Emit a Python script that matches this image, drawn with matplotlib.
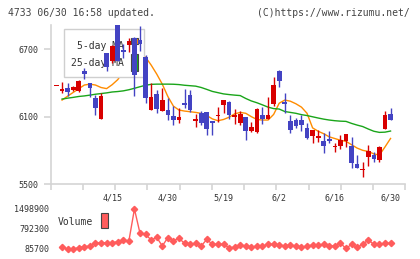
import numpy as np
import matplotlib
matplotlib.use("Agg")
import matplotlib.pyplot as plt
from matplotlib.patches import Rectangle

# ---------------- data ----------------
date_labels = ["4/15", "4/30", "5/19", "6/2", "6/16", "6/30"]
label_idx = [10, 20, 30, 40, 50, 60]

opens = [6373, 6328, 6355, 6340, 6331, 6509, 6402, 6266, 6081, 6670,
         6593, 6917, 6685, 6741, 6800, 6783, 6634, 6159, 6301, 6153,
         6159, 6105, 6070, 6224, 6293, 6064, 6129, 6141, 6055, 6105,
         6203, 6230, 6099, 6046, 6096, 5972, 5963, 6114, 6076, 6212,
         6507, 6221, 6061, 6070, 6070, 5995, 5927, 5912, 5882, 5894,
         5826, 5841, 5885, 5838, 5677, 5624, 5737, 5760, 5713, 5992, 6123]
highs = [6373, 6408, 6402, 6376, 6426, 6530, 6402, 6290, 6313, 6670,
         6738, 6917, 6747, 6798, 6810, 6908, 6649, 6402, 6337, 6355,
         6266, 6194, 6177, 6346, 6337, 6120, 6153, 6141, 6061, 6183,
         6248, 6239, 6168, 6150, 6096, 6052, 6174, 6186, 6272, 6456,
         6515, 6313, 6114, 6084, 6114, 6040, 5981, 5981, 5954, 5972,
         5868, 5936, 5945, 5915, 5758, 5692, 5847, 5781, 5838, 6150, 6180]
lows = [6373, 6313, 6287, 6328, 6319, 6432, 6278, 6117, 6081, 6506,
        6581, 6599, 6625, 6673, 6284, 6685, 6224, 6159, 6135, 6153,
        6070, 6028, 6046, 6174, 6144, 6010, 6030, 5936, 5936, 6055,
        6135, 6079, 6034, 6025, 5891, 5960, 5954, 6034, 6076, 6197,
        6367, 6129, 5957, 6001, 5975, 5900, 5868, 5876, 5778, 5862,
        5787, 5811, 5832, 5639, 5645, 5558, 5662, 5692, 5698, 5992, 6070]
closes = [6373, 6349, 6322, 6367, 6417, 6483, 6358, 6177, 6284, 6545,
          6729, 6599, 6679, 6774, 6471, 6747, 6269, 6275, 6165, 6248,
          6114, 6070, 6096, 6206, 6159, 6079, 6040, 5992, 6046, 6114,
          6248, 6114, 6105, 6126, 5974, 6007, 6168, 6079, 6114, 6382,
          6420, 6215, 5981, 6016, 6025, 5912, 5981, 5927, 5841, 5885,
          5838, 5891, 5945, 5689, 5645, 5636, 5793, 5719, 5826, 6111, 6070]

# moving averages as drawn (days 1..60)
ma5 = [6248, 6283, 6316, 6349, 6382, 6390, 6382, 6360, 6350, 6385,
       6430, 6500, 6560, 6620, 6660, 6630, 6560, 6480, 6390, 6280,
       6194, 6159, 6150, 6144, 6138, 6129, 6110, 6080, 6064, 6075,
       6095, 6125, 6138, 6130, 6100, 6075, 6070, 6070, 6120, 6220,
       6248, 6238, 6215, 6185, 6130, 6000, 5970, 5948, 5920, 5905,
       5890, 5880, 5850, 5820, 5800, 5790, 5768, 5758, 5830, 5906]
ma25 = [6257, 6265, 6272, 6280, 6285, 6292, 6300, 6306, 6312, 6320,
        6324, 6330, 6340, 6353, 6367, 6380, 6388, 6390, 6390, 6390,
        6389, 6386, 6380, 6376, 6372, 6360, 6343, 6325, 6314, 6303,
        6297, 6292, 6288, 6262, 6240, 6224, 6205, 6185, 6172, 6168,
        6146, 6138, 6130, 6118, 6110, 6099, 6088, 6078, 6070, 6064,
        6060, 6058, 6040, 6025, 6012, 5990, 5970, 5960, 5962, 5972]

volume = [168000, 85700, 85700, 133000, 168000, 192000, 286000, 309000, 309000, 309000,
          345000, 404000, 368000, 1498900, 639000, 604000, 404000, 498000, 192000, 486000,
          380000, 463000, 286000, 250000, 286000, 192000, 427000, 250000, 250000, 250000,
          133000, 145000, 227000, 192000, 145000, 192000, 192000, 250000, 250000, 227000,
          192000, 227000, 192000, 145000, 192000, 227000, 227000, 250000, 192000, 192000,
          286000, 109000, 250000, 145000, 250000, 404000, 250000, 250000, 286000, 286000]

price_ticks = [5500, 6100, 6700]

# ---------------- styles ----------------
RED = "#d80000"
BLUE = "#4343c3"
ORANGE = "#ff8c00"
GREEN = "#1aa51a"
VOLC = "#ff5c5c"
AXC = "#d4d4d4"
TXT = "#333333"
MONO = "DejaVu Sans Mono"

W, H = 420, 259
fig = plt.figure(figsize=(W / 100, H / 100), dpi=100)


def fx(x):
    return x / W


def fy(y):
    return 1 - y / H


x0, x1 = 50.7, 405.3
ax = fig.add_axes([fx(x0), fy(184), fx(x1 - x0), (184 - 25) / H])
ax2 = fig.add_axes([fx(x0), fy(249), fx(x1 - x0), 40 / H])

n = len(opens)
idx = np.arange(n)
xl = (-1.04, 62.65)

# --- MA lines (under legend) ---
ma_x = idx[1:]
ax.plot(ma_x, ma5, color=ORANGE, lw=1.0, zorder=2)
ax.plot(ma_x, ma25, color=GREEN, lw=1.0, zorder=2)

# --- candles ---
o = np.array(opens, float)
c = np.array(closes, float)
hi = np.array(highs, float)
lo = np.array(lows, float)
up = c >= o
cols = np.where(up, RED, BLUE)
bottoms = np.minimum(o, c)
heights = np.maximum(np.abs(c - o), 12)
ax.vlines(idx, lo, hi, colors=cols, lw=1.0, zorder=6)
ax.bar(idx, heights, bottom=bottoms, width=0.84, color=cols, lw=0, zorder=6)

ax.set_xlim(*xl)
ax.set_ylim(5500, 6917)
for s in ["top", "right"]:
    ax.spines[s].set_visible(False)
for s in ["left", "bottom"]:
    ax.spines[s].set_color(AXC)
    ax.spines[s].set_linewidth(1.2)
ax.set_yticks(price_ticks)
ax.set_yticklabels([str(t) for t in price_ticks], fontsize=6, family=MONO,
                   color=TXT)
ax.tick_params(axis="y", length=5, color=AXC, width=1.2, pad=4)
ax.set_xticks(label_idx)
ax.set_xticklabels(date_labels, fontsize=6, family=MONO, color=TXT)
ax.tick_params(axis="x", which="major", length=0, pad=7)
ax.set_xticks(np.linspace(xl[0], xl[1], 12), minor=True)
ax.tick_params(axis="x", which="minor", length=4, color=AXC, width=1.2)

# --- price legend (decoration) ---
leg_box = Rectangle((fx(64), fy(76.7)), fx(143.7 - 64), (76.7 - 28.7) / H,
                    transform=fig.transFigure, facecolor="white",
                    edgecolor="#cfcfcf", lw=1.0, zorder=4)
ax.add_artist(leg_box)
ax.text(fx(123.7), fy(46.3), "5-day MA", transform=fig.transFigure,
        ha="right", va="center", fontsize=7, family=MONO, color=TXT, zorder=5)
ax.text(fx(123.7), fy(63), "25-day MA", transform=fig.transFigure,
        ha="right", va="center", fontsize=7, family=MONO, color=TXT, zorder=5)
ax.add_artist(Rectangle((fx(131), fy(44)), fx(7), 6.3 / H,
                        transform=fig.transFigure, facecolor=ORANGE,
                        edgecolor="#444444", lw=0.8, zorder=5))
ax.add_artist(Rectangle((fx(131), fy(71)), fx(7), 16.7 / H,
                        transform=fig.transFigure, facecolor=GREEN,
                        edgecolor="#444444", lw=0.8, zorder=5))

# --- volume ---
vx = idx[1:]
ax2.plot(vx, volume, color=VOLC, lw=1.0, marker="D", ms=3.2, mec=VOLC,
         mfc=VOLC, clip_on=False)
ax2.set_xlim(*xl)
vmin, vmax = min(volume), max(volume)
ax2.set_ylim(vmin, vmax)
for s in ax2.spines.values():
    s.set_visible(False)
ax2.set_xticks([])
vt = [vmin, (vmin + vmax) // 2, vmax]
ax2.set_yticks(vt)
ax2.set_yticklabels([str(int(v)) for v in vt], fontsize=6, family=MONO,
                    color=TXT)
ax2.tick_params(axis="y", length=0, pad=1)

fig.text(fx(58), fy(222.3), "Volume", ha="left", va="center", fontsize=7,
         family=MONO, color=TXT)
fig.patches.append(Rectangle((fx(101), fy(228.3)), fx(6.7), 15 / H,
                             transform=fig.transFigure, facecolor=VOLC,
                             edgecolor="#444444", lw=0.8))

# --- header texts ---
fig.text(fx(8), fy(12.5), "4733 06/30 16:58 updated.", ha="left",
         va="center", fontsize=7, family=MONO, color="#444444")
fig.text(fx(410), fy(12.5), "(C)https://www.rizumu.net/", ha="right",
         va="center", fontsize=7, family=MONO, color="#444444")

fig.savefig("out.png", dpi=100, facecolor="white")
